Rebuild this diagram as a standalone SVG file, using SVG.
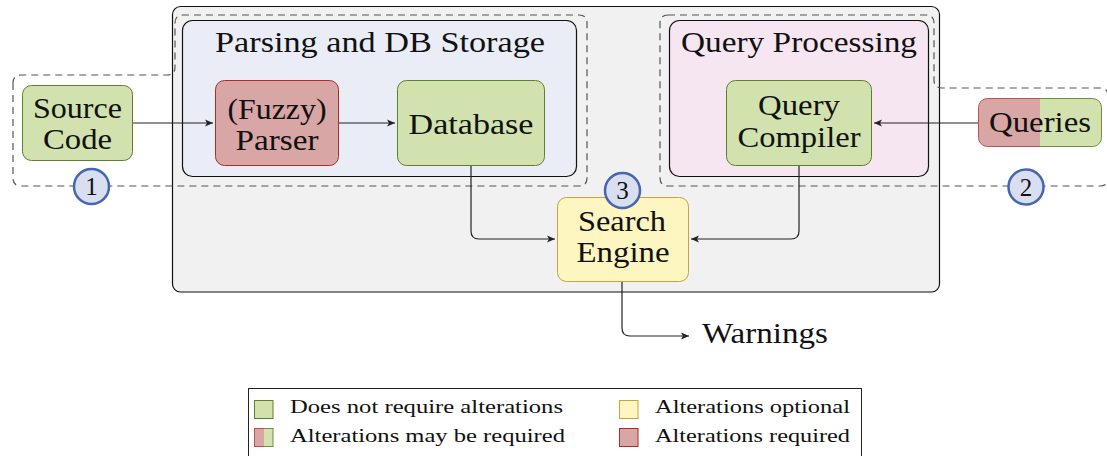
<svg xmlns="http://www.w3.org/2000/svg" width="1107" height="456" viewBox="0 0 1107 456">
<style>
text{font-family:"Liberation Serif","Times New Roman",serif;fill:#111;}
.t{font-size:29px;text-anchor:middle;}
.lg{font-size:19.5px;}
.num{font-size:25px;text-anchor:middle;}
.green{fill:#d2e2ae;stroke:#5f7f2e;stroke-width:1;}
.red{fill:#d9a6a6;stroke:#b02a2a;stroke-width:1;}
.yellow{fill:#fdf6c0;stroke:#c9a13f;stroke-width:1;}
.region{fill:none;stroke:#555;stroke-width:1.2;stroke-dasharray:7 5;}
.conn{fill:none;stroke:#222;stroke-width:1.2;marker-end:url(#arr);}
.badge{fill:#d9dff0;stroke:#4566b0;stroke-width:2.5;}
</style>
<defs>
<marker id="arr" markerWidth="10" markerHeight="10" refX="8" refY="4" orient="auto" markerUnits="userSpaceOnUse">
<path d="M0,0.5 L8,4 L0,7.5 L2,4 Z" fill="#222"/>
</marker>
<linearGradient id="splitFill" x1="0" y1="0" x2="1" y2="0">
<stop offset="0.5" stop-color="#d9a6a6"/><stop offset="0.5" stop-color="#d2e2ae"/>
</linearGradient>
<linearGradient id="splitStroke" x1="0" y1="0" x2="1" y2="0">
<stop offset="0.5" stop-color="#c05050"/><stop offset="0.5" stop-color="#6f8f3e"/>
</linearGradient>
</defs>
<rect width="1107" height="456" fill="#fff"/>

<g id="main-area">
<rect x="172.5" y="6.5" width="767" height="285.5" rx="8" fill="#f1f1f1" stroke="#111" stroke-width="1.2"/>
</g>

<g id="parsing-group">
<rect x="182.5" y="20.5" width="394" height="156" rx="10" fill="#eaedf6" stroke="#111" stroke-width="1.2"/>
<text class="t" x="380" y="52" textLength="330" lengthAdjust="spacingAndGlyphs">Parsing and DB Storage</text>
</g>

<g id="query-group">
<rect x="669.5" y="20.5" width="259" height="156" rx="10" fill="#f6e6f1" stroke="#111" stroke-width="1.2"/>
<text class="t" x="799" y="52" textLength="236" lengthAdjust="spacingAndGlyphs">Query Processing</text>
</g>

<g id="regions">
<path class="region" d="M13,83 V178 Q13,186 21,186 H579 Q587,186 587,178 V23 Q587,15 579,15 H183 Q175,15 175,23 V67 Q175,75 167,75 H21 Q13,75 13,83 Z"/>
<path class="region" d="M668,15 H926 Q934,15 934,23 V80 Q934,88 942,88 H1100 Q1108,88 1108,96 V178 Q1108,186 1100,186 H668 Q660,186 660,178 V23 Q660,15 668,15 Z"/>
</g>

<g id="connectors">
<path class="conn" d="M133,123 H213"/>
<path class="conn" d="M339,123 H395"/>
<path class="conn" d="M978,123 H874"/>
<path class="conn" d="M471,166 V231 Q471,239 479,239 H555"/>
<path class="conn" d="M799,166 V231 Q799,239 791,239 H691"/>
<path class="conn" d="M622,282 V328 Q622,336 630,336 H689"/>
</g>

<g id="source-code">
<rect class="green" x="22.5" y="85.5" width="110" height="75" rx="9"/>
<text class="t" x="77.5" y="118" textLength="89" lengthAdjust="spacingAndGlyphs">Source</text>
<text class="t" x="77.5" y="149" textLength="69" lengthAdjust="spacingAndGlyphs">Code</text>
</g>

<g id="fuzzy-parser">
<rect class="red" x="215.5" y="80.5" width="123" height="85" rx="9"/>
<text class="t" x="277" y="119" textLength="99" lengthAdjust="spacingAndGlyphs">(Fuzzy)</text>
<text class="t" x="277" y="150" textLength="83" lengthAdjust="spacingAndGlyphs">Parser</text>
</g>

<g id="database">
<rect class="green" x="397.5" y="80.5" width="147" height="85" rx="9"/>
<text class="t" x="471" y="134" textLength="125" lengthAdjust="spacingAndGlyphs">Database</text>
</g>

<g id="query-compiler">
<rect class="green" x="726.5" y="80.5" width="145" height="85" rx="9"/>
<text class="t" x="799" y="115" textLength="82" lengthAdjust="spacingAndGlyphs">Query</text>
<text class="t" x="799" y="147" textLength="123" lengthAdjust="spacingAndGlyphs">Compiler</text>
</g>

<g id="queries">
<rect x="978.5" y="98.5" width="123" height="48" rx="9" fill="url(#splitFill)" stroke="url(#splitStroke)" stroke-width="1"/>
<text class="t" x="1040" y="132" textLength="102" lengthAdjust="spacingAndGlyphs">Queries</text>
</g>

<g id="search-engine">
<rect class="yellow" x="557.5" y="197.5" width="131" height="84" rx="9"/>
<text class="t" x="622" y="231" textLength="88" lengthAdjust="spacingAndGlyphs">Search</text>
<text class="t" x="623" y="262" textLength="93" lengthAdjust="spacingAndGlyphs">Engine</text>
</g>

<g id="warnings">
<text class="t" x="765" y="343" textLength="126" lengthAdjust="spacingAndGlyphs">Warnings</text>
</g>

<g id="badge-1">
<circle class="badge" cx="91.5" cy="186.5" r="17.5"/>
<text class="num" x="91.5" y="195">1</text>
</g>
<g id="badge-2">
<circle class="badge" cx="1026" cy="187" r="17.5"/>
<text class="num" x="1026" y="195.5">2</text>
</g>
<g id="badge-3">
<circle class="badge" cx="622.5" cy="190.5" r="17.5"/>
<text class="num" x="622.5" y="199">3</text>
</g>

<g id="legend">
<rect x="248.5" y="388.5" width="613" height="75" fill="#fff" stroke="#222" stroke-width="1"/>
<rect class="green" x="254.5" y="400.5" width="18.5" height="18"/>
<text class="lg" x="290" y="413" textLength="273" lengthAdjust="spacingAndGlyphs">Does not require alterations</text>
<rect x="254.5" y="428.5" width="18.5" height="18" fill="url(#splitFill)" stroke="url(#splitStroke)" stroke-width="1"/>
<text class="lg" x="290" y="442" textLength="275" lengthAdjust="spacingAndGlyphs">Alterations may be required</text>
<rect class="yellow" x="619.5" y="400.5" width="18.5" height="18"/>
<text class="lg" x="655" y="413" textLength="195" lengthAdjust="spacingAndGlyphs">Alterations optional</text>
<rect class="red" x="619.5" y="428.5" width="18.5" height="18"/>
<text class="lg" x="655" y="442" textLength="195" lengthAdjust="spacingAndGlyphs">Alterations required</text>
</g>
</svg>
